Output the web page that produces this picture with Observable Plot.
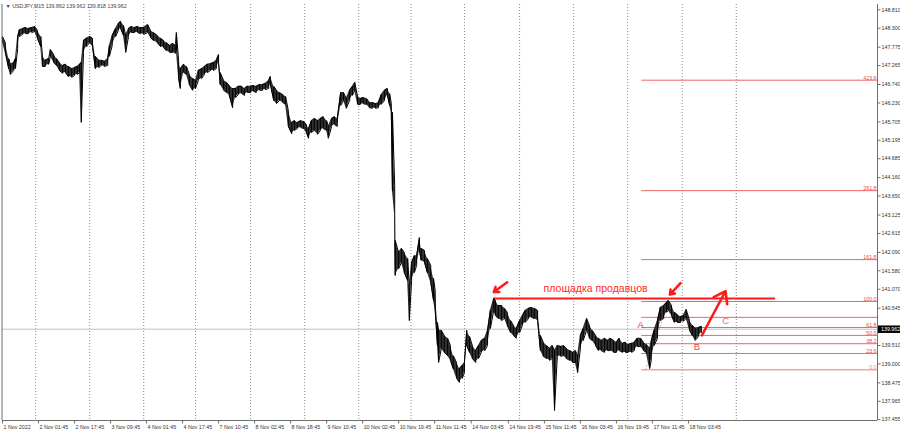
<!DOCTYPE html>
<html><head><meta charset="utf-8">
<script src="https://cdn.jsdelivr.net/npm/d3@7"></script>
<script src="https://cdn.jsdelivr.net/npm/@observablehq/plot@0.6"></script>
<style>
html,body{margin:0;padding:0;background:#fff;}
#chart{width:900px;height:433px;overflow:hidden;}
</style></head><body><div id="chart"></div>
<script>
// ---- data (USDJPY, M15; x = bar number since 1 Nov 2022 09:45) ----
const symbolLine = "USDJPY,M15";
const quote = ["139.862", "139.962", "139.818", "139.962"];
const lastPrice = 139.962;

const bars = [
0,5,11,14,20,23,27,30,36,41,
46,52,57,62,68,71,76,82,85,91,
96,101,107,112,117,123,128,133,137,140,
144,149,155,160,165,171,176,181,187,190,
195,201,206,210,215,219,224,229,235,240,
245,251,258,263,268,275,281,286,291,297,
302,307,309,313,316,322,327,332,338,343,
348,354,359,364,370,375,380,384,387,393,
398,403,409,414,419,425,430,435,441,446,
451,457,462,467,473,476,482,487,492,498,
503,508,514,519,524,530,535,540,544,549,
554,560,565,570,576,579,585,590,595,601,
606,611,617,622,626,631,636,641,647,652,
657,663,668,673,679,684,688,691,693,697,
698,704,709,714,720,723,727,732,736,741,
744,750,755,761,766,769,773,775,780,785,
791,796,801,807,812,817,821,825,830,835,
841,846,851,857,862,867,873,876,881,887,
892,897,903,908,913,919,924,929,935,940,
945,951,956,961,967,972,977,981,986,992,
997,1002,1008,1013,1018,1022,1027,1032,1038,1043,
1048,1054,1059,1064,1070,1075,1080,1086,1091,1096,
1102,1107,1112,1118,1123,1128,1134,1139,1144,1150,
1153,1158,1164,1169,1175,1180,1183,1189,1194,1199,
1205,1210,1215,1221,1226,1231,1237,1242];

const highs = [
148.07,147.90,147.46,147.30,147.35,147.46,148.07,148.26,148.29,148.32,
148.29,148.32,148.35,148.24,148.07,147.54,147.41,147.46,147.71,147.57,
147.46,147.35,147.27,147.30,147.24,147.18,147.21,147.24,147.30,147.35,
147.96,148.02,148.07,148.02,147.52,147.41,147.41,147.38,147.46,147.82,
148.10,148.29,148.43,148.49,148.38,148.10,148.29,148.35,148.32,148.35,
148.32,148.32,148.40,148.24,148.18,148.10,148.02,147.96,147.90,147.82,
147.88,147.82,148.18,147.41,147.18,147.30,147.24,147.02,146.91,146.85,
147.13,147.18,147.24,147.30,147.32,147.35,147.41,147.57,147.07,146.85,
146.80,146.71,146.63,146.63,146.69,146.69,146.63,146.69,146.69,146.71,
146.69,146.74,146.74,146.77,146.85,146.96,146.69,146.58,146.52,146.46,
146.41,146.02,145.69,145.74,145.69,145.74,145.72,145.63,145.52,145.74,
145.80,145.74,145.80,145.85,145.74,145.58,145.80,145.85,145.80,146.52,
146.52,146.35,146.58,146.69,146.80,146.41,146.35,146.38,146.35,146.24,
146.24,146.21,146.24,146.46,146.58,146.63,146.49,146.21,145.97,143.94,
142.42,142.09,142.20,142.09,141.92,141.17,141.81,142.00,142.00,142.50,
142.20,142.14,141.92,141.73,141.37,141.04,140.15,139.93,139.93,139.79,
139.71,139.51,139.23,139.04,138.87,138.96,139.04,139.93,139.76,139.51,
139.37,139.51,139.65,139.71,139.93,140.48,140.81,140.76,140.62,140.62,
140.54,140.43,140.20,140.07,139.98,140.20,140.34,140.48,140.54,140.56,
140.54,140.48,139.79,139.60,139.51,139.43,139.51,139.37,139.51,139.48,
139.51,139.43,139.37,139.32,139.37,139.23,139.79,139.98,140.26,140.07,
139.93,139.79,139.71,139.65,139.71,139.65,139.71,139.65,139.60,139.71,
139.57,139.60,139.54,139.57,139.60,139.71,139.71,139.60,139.54,139.43,
139.65,139.93,140.20,140.56,140.62,140.70,140.76,140.62,140.43,140.37,
140.31,140.34,140.51,140.20,140.07,139.98,140.01,140.04];

const lows = [
147.90,147.63,147.18,147.02,147.13,147.18,147.74,148.07,148.13,148.15,
148.15,148.18,148.21,148.02,147.79,147.24,147.24,147.30,147.52,147.35,
147.27,147.13,147.05,147.07,146.96,146.94,146.99,147.02,147.07,145.69,
147.63,147.79,147.90,147.79,147.18,147.21,147.27,147.24,147.27,147.52,
147.82,148.07,148.24,148.29,148.10,147.63,148.07,148.18,148.18,148.18,
148.15,148.13,148.18,148.04,147.96,147.90,147.79,147.77,147.68,147.63,
147.63,147.60,147.68,146.91,146.63,147.07,147.02,146.74,146.58,146.63,
146.85,146.91,147.02,147.07,147.13,147.13,147.18,147.35,146.74,146.58,
146.52,146.44,146.10,146.38,146.46,146.49,146.44,146.52,146.52,146.55,
146.52,146.58,146.58,146.60,146.63,146.74,146.30,146.21,146.30,146.24,
146.19,145.58,145.38,145.47,145.52,145.55,145.52,145.41,145.25,145.41,
145.47,145.36,145.47,145.52,145.47,145.25,145.58,145.63,145.58,146.16,
146.30,146.08,146.30,146.44,146.58,146.19,146.19,146.21,146.19,146.10,
146.08,146.08,146.10,146.19,146.30,146.44,146.16,145.97,143.80,143.11,
141.45,141.64,141.81,141.53,141.31,140.20,141.31,141.53,141.73,142.14,
141.87,141.81,141.53,141.26,140.76,140.48,139.51,139.04,139.43,139.32,
139.23,139.10,138.87,138.60,138.49,138.60,138.76,139.51,139.32,139.15,
139.04,139.15,139.32,139.37,139.51,139.98,140.48,140.34,140.26,140.20,
140.26,140.07,139.87,139.79,139.71,139.87,140.07,140.15,140.26,140.29,
140.26,140.20,139.37,139.21,139.15,139.10,139.15,137.71,139.21,139.21,
139.23,139.15,139.10,139.04,139.04,138.76,139.43,139.65,139.93,139.71,
139.65,139.51,139.37,139.37,139.32,139.37,139.37,139.32,139.32,139.37,
139.32,139.32,139.32,139.32,139.37,139.48,139.48,139.37,139.32,138.87,
139.10,139.51,139.71,140.20,140.26,140.43,140.48,140.34,140.15,140.15,
140.15,140.18,140.26,139.93,139.79,139.65,139.76,139.87];

// axis values
const yTicks = [148.810,148.300,147.775,147.265,146.740,146.230,145.705,145.195,144.685,144.160,143.650,143.125,142.615,142.090,141.580,141.070,140.545,139.510,139.000,138.475,137.965,137.455];
const xLabelBars = [0,64,128,192,256,320,384,448,512,576,640,704,768,833,899,963,1027,1091,1155,1219];
const xLabels = ["1 Nov 2022","2 Nov 01:45","2 Nov 17:45","3 Nov 09:45","4 Nov 01:45","4 Nov 17:45","7 Nov 10:45","8 Nov 02:45","8 Nov 18:45","9 Nov 10:45","10 Nov 02:45","10 Nov 19:45","11 Nov 11:45","14 Nov 03:45","14 Nov 19:45","15 Nov 11:45","16 Nov 03:45","16 Nov 19:45","17 Nov 11:45","18 Nov 03:45"];
const dayBars = [59,155,251,343,441,537,633,726,821,919,1015,1111,1208,1304];

// Fibonacci grid
const fibPrices = [138.84,139.29,139.56,139.79,140.01,140.29,140.73,141.89,143.80,146.86];
const fibLabels = ["0.0","23.6","38.2","50.0","61.8","","100.0","161.8","261.8","423.6"];
const fibStartBar = 1136;
const fibTrend = {x1: 1143, y1: 138.84, x2: 1183, y2: 140.73};

// annotations
const sellerZone = {price: 140.81, x1: 873, x2: 1374, label: "площадка продавцов", labelBar: 1054, labelPrice: 141.0};
const arrowX1 = [897, 1205, 1243];
const arrowY1 = [141.26, 141.24, 139.79];
const arrowX2 = [873, 1186, 1285];
const arrowY2 = [140.99, 140.92, 141.02];
const waveLetters = ["A", "B", "C"];
const waveBars = [1134, 1234, 1285];
const wavePrices = [140.07, 139.46, 140.18];
const waveColors = ["#f03c3c", "#f03c3c", "#f27070"];

// ---- build ----
const n = Math.min(bars.length, highs.length, lows.length);
const series = d3.range(n).map(i => ({bar: bars[i], hi: highs[i], lo: lows[i]}));
const zig = series.flatMap((d, i) => i % 2 === 0
  ? [{bar: d.bar, p: d.lo}, {bar: d.bar, p: d.hi}]
  : [{bar: d.bar, p: d.hi}, {bar: d.bar, p: d.lo}]);
const X_MAX = 1555;
const Y_MIN = 137.433, Y_MAX = 148.957;
const pxPerBar = 875 / X_MAX;
const font = "'Liberation Sans', Arial, sans-serif";

const fibData = fibPrices.map((p, i) => ({p, label: fibLabels[i], zero: i === 0}));
const arrows = arrowX1.map((x, i) => ({x1: x, y1: arrowY1[i], x2: arrowX2[i], y2: arrowY2[i]}));
const letters = waveLetters.map((t, i) => ({t, bar: waveBars[i], p: wavePrices[i], c: waveColors[i]}));

const chart = Plot.plot({
  width: 900,
  height: 433,
  marginLeft: 2,
  marginRight: 23,
  marginTop: 4,
  marginBottom: 13,
  style: {fontFamily: font, background: "#fff", overflow: "visible"},
  x: {type: "linear", domain: [0, X_MAX], axis: null},
  y: {type: "linear", domain: [Y_MIN, Y_MAX], axis: null},
  marks: [
    Plot.ruleX(dayBars, {x: d => d, stroke: "#8a8a8a", strokeWidth: 1, strokeDasharray: "1,2"}),
    Plot.ruleY([lastPrice], {y: d => d, x1: 0, x2: X_MAX, stroke: "#c4c4c4", strokeWidth: 1}),
    Plot.ruleY(fibData, {y: "p", x1: fibStartBar, x2: X_MAX, stroke: d => d.zero ? "#f5a3a3" : "#f06464", strokeWidth: d => d.zero ? 1.6 : 1}),
    Plot.text(fibData, {x: X_MAX, y: "p", text: "label", textAnchor: "end", lineAnchor: "bottom", dx: -1, dy: -0.5, fontSize: 5.3, fill: d => d.zero ? "#f08c8c" : "#e84a4a"}),
    Plot.link([fibTrend], {x1: "x1", y1: "y1", x2: "x2", y2: "y2", stroke: "#f08c8c", strokeWidth: 1, strokeDasharray: "1.5,2"}),
    Plot.ruleY([sellerZone], {y: "price", x1: "x1", x2: "x2", stroke: "#ff1a1a", strokeWidth: 2}),
    // price: band between highs and lows, with a zig-zag through them for texture
    Plot.areaY(series, {x: "bar", y1: "lo", y2: "hi", fill: "#1a1a1a", fillOpacity: 0.9, curve: "linear"}),
    Plot.line(zig, {x: "bar", y: "p", stroke: "#000", strokeWidth: 1, curve: "linear"}),
    Plot.text([sellerZone], {x: "labelBar", y: "labelPrice", text: "label", fill: "#ff2a2a", fontSize: 10.5, textAnchor: "middle", lineAnchor: "bottom"}),
    Plot.arrow(arrows, {x1: "x1", y1: "y1", x2: "x2", y2: "y2", stroke: "#ff1a1a", strokeWidth: 2.5, headLength: 8, headAngle: 70}),
    Plot.text(letters, {x: "bar", y: "p", text: "t", fill: "c", fontSize: 9.5, textAnchor: "middle", lineAnchor: "middle"}),
    Plot.ruleX([0], {x: d => d, y1: Y_MIN, y2: Y_MAX, stroke: "#6e6e6e", strokeWidth: 1, dx: -0.5}),
    Plot.ruleX([X_MAX], {x: d => d, y1: Y_MIN, y2: Y_MAX, stroke: "#6e6e6e", strokeWidth: 1}),
    Plot.ruleY([Y_MIN], {y: d => d, x1: 0, x2: X_MAX, stroke: "#6e6e6e", strokeWidth: 1}),
    Plot.link(yTicks, {x1: X_MAX, x2: X_MAX + 3 / pxPerBar, y1: d => d, y2: d => d, stroke: "#6e6e6e", strokeWidth: 1}),
    Plot.text(yTicks, {x: X_MAX, y: d => d, text: d => d.toFixed(3), textAnchor: "start", lineAnchor: "middle", dx: 4, fontSize: 5.3, fill: "#333"}),
    Plot.link([lastPrice], {x1: X_MAX + 0.5 / pxPerBar, x2: X_MAX + 23 / pxPerBar, y1: d => d, y2: d => d, stroke: "#000", strokeWidth: 7.5}),
    Plot.text([lastPrice], {x: X_MAX, y: d => d, text: d => d.toFixed(3), textAnchor: "start", lineAnchor: "middle", dx: 3.5, fontSize: 5.3, fill: "#fff"}),
    Plot.link(xLabelBars, {x1: d => d, x2: d => d, y1: Y_MIN, y2: Y_MIN - 3 / 36.1, stroke: "#6e6e6e", strokeWidth: 1}),
    Plot.text(xLabelBars, {x: d => d, y: Y_MIN, text: (d, i) => xLabels[i], textAnchor: "start", lineAnchor: "middle", dx: 1, dy: 6.5, fontSize: 5.3, fill: "#333"}),
    Plot.text([`▼ ${symbolLine} ${quote.join(" ")}`], {frameAnchor: "top-left", textAnchor: "start", lineAnchor: "top", dx: 3, dy: 0, fontSize: 5.3, fill: "#444"})
  ]
});
document.getElementById("chart").appendChild(chart);
</script>
</body></html>
